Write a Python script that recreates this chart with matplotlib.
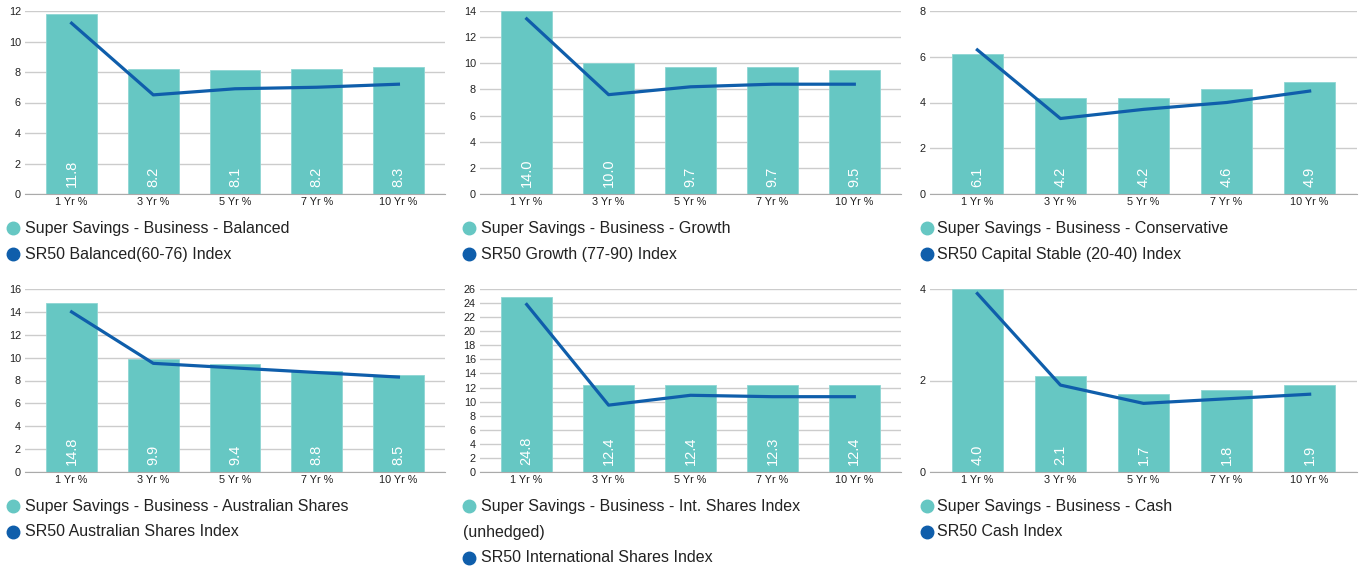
import matplotlib
matplotlib.use("Agg")
import matplotlib.pyplot as plt
from matplotlib.lines import Line2D

plt.rcParams['font.family'] = ['Liberation Sans', 'DejaVu Sans']

periods = ['1 Yr %', '3 Yr %', '5 Yr %', '7 Yr %', '10 Yr %']

# fund returns (bars) and index returns (line) per panel
balanced_fund = [11.8, 8.2, 8.1, 8.2, 8.3]
balanced_index = [11.2, 6.5, 6.9, 7.0, 7.2]
growth_fund = [14.0, 10.0, 9.7, 9.7, 9.5]
growth_index = [13.4, 7.6, 8.2, 8.4, 8.4]
conservative_fund = [6.1, 4.2, 4.2, 4.6, 4.9]
conservative_index = [6.3, 3.3, 3.7, 4.0, 4.5]
aus_fund = [14.8, 9.9, 9.4, 8.8, 8.5]
aus_index = [14.0, 9.5, 9.1, 8.7, 8.3]
intl_fund = [24.8, 12.4, 12.4, 12.3, 12.4]
intl_index = [23.8, 9.5, 10.9, 10.7, 10.7]
cash_fund = [4.0, 2.1, 1.7, 1.8, 1.9]
cash_index = [3.9, 1.9, 1.5, 1.6, 1.7]

fund_names = ['Super Savings - Business - Balanced',
              'Super Savings - Business - Growth',
              'Super Savings - Business - Conservative',
              'Super Savings - Business - Australian Shares',
              'Super Savings - Business - Int. Shares Index\n(unhedged)',
              'Super Savings - Business - Cash']
index_names = ['SR50 Balanced(60-76) Index',
               'SR50 Growth (77-90) Index',
               'SR50 Capital Stable (20-40) Index',
               'SR50 Australian Shares Index',
               'SR50 International Shares Index',
               'SR50 Cash Index']
y_max = [12, 14, 8, 16, 26, 4]

panels = [(balanced_fund, balanced_index), (growth_fund, growth_index),
          (conservative_fund, conservative_index), (aus_fund, aus_index),
          (intl_fund, intl_index), (cash_fund, cash_index)]

BAR = '#66c7c3'
LINE = '#0f5eab'
W, H = 1359, 568

fig = plt.figure(figsize=(W / 100, H / 100), dpi=100)

# pixel layout: (left, right) of plot area per column, (top, bottom) per row
cols = [(25, 445), (480, 901), (930, 1357)]
rows = [(11, 194), (289, 472)]
marker_x = [13, 469, 927]
text_x = [25, 481, 937]
legend_y = [228, 506]

for i, (fund, index) in enumerate(panels):
    r, c = divmod(i, 3)
    x0, x1 = cols[c]
    t, b = rows[r]
    ax = fig.add_axes([x0 / W, (H - b) / H, (x1 - x0) / W, (b - t) / H])
    xs = range(len(periods))
    ax.bar(xs, fund, width=0.62, color=BAR, edgecolor='#8ed6d3', linewidth=0.6, zorder=2)
    ax.plot(xs, index, color=LINE, linewidth=2.3, zorder=3)
    for x, v in zip(xs, fund):
        ax.annotate(f'{v:.1f}', (x, 0), xytext=(0, 5), textcoords='offset points',
                    rotation=90, ha='center', va='bottom', color='white',
                    fontsize=10.5, zorder=4)
    ax.set_xlim(-0.57, 4.57)
    ax.set_ylim(0, y_max[i])
    ax.set_yticks(range(0, y_max[i] + 1, 2))
    ax.set_xticks(list(xs))
    ax.set_xticklabels(periods)
    ax.tick_params(axis='both', length=0, labelsize=7.8, colors='#222222')
    ax.tick_params(axis='y', pad=3)
    ax.tick_params(axis='x', pad=2)
    ax.grid(axis='y', color='#cccccc', linewidth=1, zorder=0)
    ax.set_axisbelow(True)
    for s in ['top', 'right', 'left']:
        ax.spines[s].set_visible(False)
    ax.spines['bottom'].set_color('#aaaaaa')
    ax.spines['bottom'].set_zorder(5)

    # legend drawn by hand
    ly = legend_y[r]
    lines = fund_names[i].split('\n')
    fig.add_artist(Line2D([marker_x[c] / W], [(H - ly) / H], marker='o', markersize=9,
                          color=BAR, transform=fig.transFigure, linestyle=''))
    fig.text(text_x[c] / W, (H - ly) / H, lines[0], fontsize=11.5, va='center', color='#222222')
    next_y = ly + 26
    if len(lines) > 1:
        fig.text((marker_x[c] - 6) / W, (H - next_y) / H, lines[1], fontsize=11.5,
                 va='center', color='#222222')
        next_y += 26
    fig.add_artist(Line2D([marker_x[c] / W], [(H - next_y) / H], marker='o', markersize=9,
                          color=LINE, transform=fig.transFigure, linestyle=''))
    fig.text(text_x[c] / W, (H - next_y) / H, index_names[i], fontsize=11.5, va='center',
             color='#222222')

fig.savefig('out.png', dpi=100)
